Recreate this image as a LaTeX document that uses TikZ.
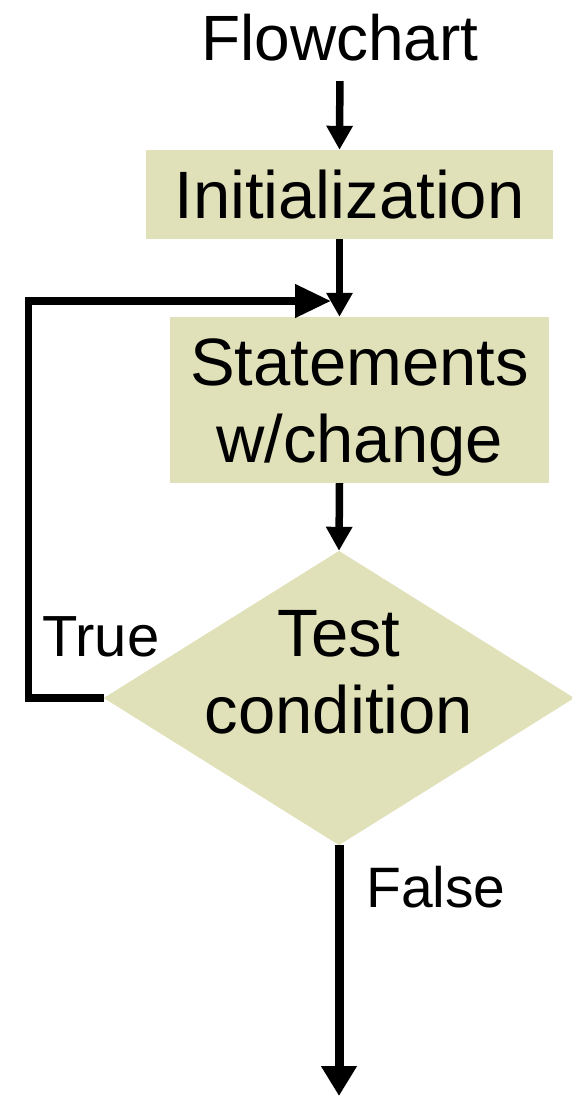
\documentclass[tikz,border=0pt]{standalone}
\usepackage{fontspec}
\setmainfont{Liberation Sans}
\usetikzlibrary{arrows.meta,shapes.geometric}
\definecolor{boxfill}{RGB}{224,224,185}
\tikzset{
  stepbox/.style={rectangle,fill=boxfill,inner sep=0pt,align=center},
  decision/.style={diamond,fill=boxfill,inner sep=0pt,minimum width=470pt,minimum height=294pt},
  flow/.style={line width=7.5pt,-{Triangle[length=24pt,width=25pt]}},
  bigtxt/.style={font=\fontsize{67}{77}\selectfont},
  lbltxt/.style={font=\fontsize{58}{66}\selectfont,inner sep=0pt,anchor=base west},
}
\begin{document}
\begin{tikzpicture}[x=1pt,y=-1pt]
\useasboundingbox (0,0) rectangle (571,1096);
\coordinate (spine) at (339.5,0);
% title and boxes
\node[font=\fontsize{64}{70}\selectfont,inner sep=0pt,anchor=base,text depth=0pt] (title) at (340,60) {Flowchart};
\node[stepbox,bigtxt,minimum width=407pt,minimum height=89pt] (init) at (349.5,194.5) {Initialization};
\node[stepbox,bigtxt,minimum width=379pt,minimum height=166pt,text height=124pt,text depth=0pt] (stmt) at (359.5,400) {Statements\\w/change};
% connectors
\draw[flow,shorten <=21pt] (title.south) -- (spine |- init.north);
\draw[flow] (spine |- init.south) -- (spine |- stmt.north);
\coordinate (looptop) at (28.5,301);
\coordinate (merge) at (331,301);
\coordinate (exit) at (339,1096);
\node[decision] (test) at (339,698) {};
\draw[flow] (spine |- stmt.south) -- (test.north);
\draw[line width=7.5pt,line join=miter,-{Triangle[length=36pt,width=32pt]}] (test.west) -| (looptop) -- (merge);
\draw[line width=9pt,-{Triangle[length=30pt,width=34pt]}] (test.south) -- (exit);
% decision shape drawn over the loop's start
\node[decision] (testshape) at (test.center) {};
\node[bigtxt,align=center,inner sep=0pt,text height=124pt,text depth=0pt] (testtxt) at (339,671) {Test\\condition};
% branch labels
\node[lbltxt] (truelbl) at (42,656) {True};
\node[lbltxt,font=\fontsize{57}{64}\selectfont] (falselbl) at (366,907) {False};
\end{tikzpicture}
\end{document}
